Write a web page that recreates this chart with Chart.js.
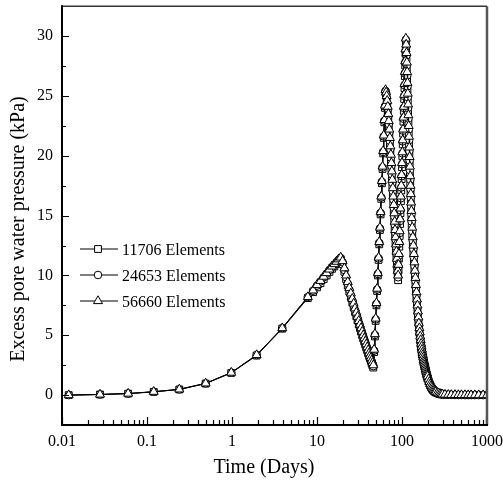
<!DOCTYPE html>
<html>
<head>
<meta charset="utf-8">
<script src="https://cdn.jsdelivr.net/npm/chart.js@4.4.0/dist/chart.umd.min.js"></script>
<style>
  html, body { margin: 0; padding: 0; background: #fff; }
  #wrap { width: 503px; height: 482px; }
</style>
</head>
<body>
<div id="wrap"><canvas id="chart" width="503" height="482"></canvas></div>
<script>
// time (days)
const times = [0.012, 0.028, 0.06, 0.12, 0.24, 0.49, 0.98, 1.95, 3.9, 7.8,
  9, 10, 11, 12, 13, 14, 15, 16, 17, 18, 19,
  20, 21, 22, 23, 24, 25, 26, 27, 28, 29, 30, 31, 32, 33, 34, 35, 36, 37, 38, 39, 40, 41, 42, 43, 44, 45, 46,
  47, 48, 49, 50, 51, 52, 53, 54, 55, 56, 57, 58, 59, 60, 61, 62, 63, 64,
  65, 66, 67, 68, 69, 70, 71, 72, 73, 74, 75, 76, 77, 78, 79, 80, 81, 82, 83, 84, 85, 86, 87, 88, 89, 90,
  91, 92, 93, 94, 95, 96, 97, 98, 99, 100, 101, 102, 103, 104, 105, 106, 107, 108, 109, 110, 111,
  112, 113, 114, 115, 116, 117, 118, 119, 120, 121, 122, 123, 124, 125, 126, 127, 128, 129, 130,
  132, 134, 136, 138, 140, 142, 144, 146, 148, 150, 152, 154, 156, 158, 160,
  162, 164, 166, 168, 170, 172, 174, 176, 178, 180, 182, 184, 186, 188, 190, 192, 194, 196, 198, 200,
  205, 210, 215, 220, 225, 230, 235, 240, 245, 250,
  260, 270, 280, 290, 300,
  320, 350, 380, 420, 460, 500, 550, 600, 650, 720, 800, 900, 1000];

// excess pore water pressure (kPa)
const elem11706 = [0, 0.05, 0.12, 0.27, 0.47, 0.96, 1.85, 3.3, 5.55, 8.1,
  8.6, 9.0, 9.35, 9.7, 10.0, 10.3, 10.55, 10.75, 10.95, 11.15, 11.35,
  10.95, 10.3, 9.7, 9.15, 8.65, 8.2, 7.75, 7.35, 6.95, 6.6, 6.25, 5.9, 5.6, 5.3, 5.0, 4.73, 4.47, 4.22, 3.97, 3.73, 3.5, 3.27, 3.06, 2.86, 2.66, 2.47, 2.3,
  3.6, 4.9, 6.2, 7.5, 8.7, 10.0, 11.3, 12.6, 13.8, 15.1, 16.4, 17.7, 18.9, 20.2, 21.5, 22.8, 24.0, 25.3,
  25.05, 24.7, 24.2, 23.65, 23.05, 22.4, 21.7, 21.0, 20.3, 19.6, 18.9, 18.2, 17.5, 16.8, 16.1, 15.4, 14.7, 14.0, 13.35, 12.75, 12.15, 11.55, 11.0, 10.5, 10.0, 9.6,
  10.5, 11.4, 12.4, 13.3, 14.3, 15.2, 16.2, 17.1, 18.05, 19.05, 19.95, 20.95, 21.85, 22.85, 23.75, 24.75, 25.65, 26.65, 27.55, 28.55, 29.5,
  28.9, 28.15, 27.3, 26.4, 25.5, 24.6, 23.7, 22.8, 21.9, 21.0, 20.1, 19.3, 18.5, 17.7, 16.9, 16.2, 15.5, 14.8, 14.2,
  13.4, 12.6, 11.9, 11.2, 10.5, 9.85, 9.25, 8.65, 8.1, 7.55, 7.05, 6.55, 6.1, 5.65, 5.25,
  4.9, 4.55, 4.25, 3.97, 3.72, 3.48, 3.26, 3.06, 2.87, 2.7, 2.54, 2.39, 2.25, 2.11, 1.98, 1.85, 1.73, 1.61, 1.5, 1.4,
  1.17, 0.97, 0.81, 0.67, 0.56, 0.46, 0.38, 0.32, 0.27, 0.22,
  0.16, 0.12, 0.09, 0.06, 0.05,
  0.03, 0.02, 0.02, 0.01, 0.01, 0, 0, 0, 0, 0, 0, 0, 0];

const elem24653 = [0, 0.05, 0.13, 0.28, 0.48, 0.98, 1.88, 3.35, 5.6, 8.2,
  8.72, 9.15, 9.5, 9.85, 10.15, 10.45, 10.7, 10.9, 11.1, 11.3, 11.45,
  11.1, 10.45, 9.85, 9.3, 8.8, 8.35, 7.9, 7.5, 7.1, 6.75, 6.4, 6.05, 5.75, 5.45, 5.15, 4.88, 4.62, 4.37, 4.12, 3.88, 3.64, 3.4, 3.2, 3.0, 2.8, 2.6, 2.42,
  3.72, 5.02, 6.32, 7.62, 8.82, 10.12, 11.42, 12.72, 13.92, 15.22, 16.52, 17.82, 19.02, 20.32, 21.62, 22.92, 24.12, 25.42,
  25.2, 24.85, 24.4, 23.9, 23.3, 22.65, 21.95, 21.25, 20.55, 19.85, 19.15, 18.45, 17.75, 17.05, 16.35, 15.65, 14.95, 14.25, 13.6, 13.0, 12.4, 11.8, 11.2, 10.7, 10.2, 9.85,
  10.75, 11.65, 12.65, 13.55, 14.55, 15.45, 16.45, 17.35, 18.3, 19.3, 20.2, 21.2, 22.1, 23.1, 24.0, 25.0, 25.9, 26.9, 27.8, 28.8, 29.7,
  29.1, 28.4, 27.55, 26.7, 25.8, 24.9, 24.0, 23.1, 22.2, 21.3, 20.4, 19.6, 18.8, 18.0, 17.2, 16.5, 15.8, 15.1, 14.5,
  13.7, 12.9, 12.2, 11.5, 10.8, 10.15, 9.55, 8.95, 8.35, 7.8, 7.3, 6.8, 6.3, 5.85, 5.45,
  5.1, 4.75, 4.45, 4.15, 3.9, 3.65, 3.42, 3.22, 3.02, 2.84, 2.68, 2.53, 2.38, 2.24, 2.1, 1.96, 1.83, 1.71, 1.6, 1.49,
  1.25, 1.04, 0.87, 0.72, 0.6, 0.5, 0.41, 0.34, 0.29, 0.24,
  0.17, 0.13, 0.1, 0.07, 0.05,
  0.04, 0.03, 0.02, 0.01, 0.01, 0.01, 0, 0, 0, 0, 0, 0, 0];

const elem56660 = [0, 0.05, 0.13, 0.28, 0.48, 0.98, 1.88, 3.35, 5.6, 8.2,
  8.75, 9.2, 9.55, 9.9, 10.2, 10.5, 10.75, 10.95, 11.15, 11.35, 11.5,
  11.2, 10.6, 10.0, 9.45, 8.95, 8.5, 8.05, 7.65, 7.25, 6.9, 6.55, 6.2, 5.9, 5.6, 5.3, 5.0, 4.75, 4.5, 4.25, 4.0, 3.75, 3.5, 3.3, 3.1, 2.9, 2.7, 2.5,
  3.8, 5.1, 6.4, 7.7, 8.9, 10.2, 11.5, 12.8, 14.0, 15.3, 16.6, 17.9, 19.1, 20.4, 21.7, 23.0, 24.2, 25.5,
  25.3, 25.0, 24.6, 24.1, 23.5, 22.9, 22.2, 21.5, 20.8, 20.1, 19.4, 18.7, 18.0, 17.3, 16.6, 15.9, 15.2, 14.5, 13.8, 13.2, 12.6, 12.0, 11.4, 10.9, 10.4, 10.0,
  10.9, 11.8, 12.8, 13.7, 14.7, 15.6, 16.6, 17.5, 18.4, 19.4, 20.3, 21.3, 22.2, 23.2, 24.1, 25.1, 26.0, 27.0, 27.9, 28.9, 29.8,
  29.3, 28.6, 27.8, 27.0, 26.1, 25.2, 24.3, 23.4, 22.5, 21.6, 20.7, 19.9, 19.1, 18.3, 17.5, 16.8, 16.1, 15.4, 14.8,
  14.0, 13.2, 12.5, 11.8, 11.1, 10.4, 9.8, 9.2, 8.6, 8.0, 7.5, 7.0, 6.5, 6.0, 5.6,
  5.25, 4.9, 4.6, 4.3, 4.05, 3.8, 3.55, 3.35, 3.15, 2.95, 2.8, 2.65, 2.5, 2.35, 2.2, 2.05, 1.92, 1.8, 1.68, 1.57,
  1.32, 1.1, 0.92, 0.77, 0.64, 0.53, 0.44, 0.37, 0.31, 0.26,
  0.19, 0.14, 0.11, 0.08, 0.06,
  0.04, 0.03, 0.02, 0.02, 0.01, 0.01, 0.01, 0, 0, 0, 0, 0, 0];

const seriesNames = ['11706 Elements', '24653 Elements', '56660 Elements'];
const xTicks = [0.01, 0.1, 1, 10, 100, 1000];
const yTicks = [0, 5, 10, 15, 20, 25, 30];
const yMinor = [-2.5, 2.5, 7.5, 12.5, 17.5, 22.5, 27.5, 32.5];

const FONT = '"Liberation Serif", "Times New Roman", serif';

const toPoints = (vals) => times.map((t, i) => ({ x: t, y: vals[i] }));

const styles = [
  { pointStyle: 'rect', radius: 4.8 },
  { pointStyle: 'circle', radius: 3.8 },
  { pointStyle: 'triangle', radius: 5.2 },
];

function drawMarker(ctx, style, r, x, y) {
  ctx.beginPath();
  if (style === 'rect') {
    const s = r * Math.SQRT1_2;
    ctx.rect(x - s, y - s, 2 * s, 2 * s);
  } else if (style === 'circle') {
    ctx.arc(x, y, r, 0, Math.PI * 2);
  } else {
    ctx.moveTo(x, y - r);
    ctx.lineTo(x + r * Math.sin(Math.PI * 2 / 3), y - r * Math.cos(Math.PI * 2 / 3));
    ctx.lineTo(x + r * Math.sin(Math.PI * 4 / 3), y - r * Math.cos(Math.PI * 4 / 3));
    ctx.closePath();
  }
  ctx.fillStyle = '#fff';
  ctx.fill();
  ctx.lineWidth = 1;
  ctx.strokeStyle = '#000';
  ctx.stroke();
}

const framePlugin = {
  id: 'frame',
  afterDraw(chart) {
    const { ctx, chartArea: a, scales } = chart;
    const xs = scales.x, ys = scales.y;
    ctx.save();

    // inward ticks
    ctx.strokeStyle = '#000';
    ctx.lineWidth = 1.2;
    ctx.beginPath();
    for (let d = 0.01; d < 1000; d *= 10) {
      for (let m = 1; m < 10; m++) {
        const v = d * m;
        const px = Math.round(xs.getPixelForValue(v)) + 0.5;
        const len = m === 1 ? 8 : 5;
        ctx.moveTo(px, a.bottom);
        ctx.lineTo(px, a.bottom - len);
      }
    }
    const pxEnd = Math.round(xs.getPixelForValue(1000)) - 0.5;
    ctx.moveTo(pxEnd, a.bottom);
    ctx.lineTo(pxEnd, a.bottom - 8);
    yTicks.forEach(v => {
      const py = Math.round(ys.getPixelForValue(v)) + 0.5;
      ctx.moveTo(a.left, py);
      ctx.lineTo(a.left + 7, py);
    });
    yMinor.forEach(v => {
      const py = Math.round(ys.getPixelForValue(v)) + 0.5;
      ctx.moveTo(a.left, py);
      ctx.lineTo(a.left + 4, py);
    });
    ctx.stroke();

    // frame
    ctx.strokeStyle = '#333';
    ctx.lineWidth = 1.5;
    ctx.beginPath();
    ctx.moveTo(a.left, a.top);
    ctx.lineTo(a.right, a.top);
    ctx.stroke();
    ctx.strokeStyle = '#555';
    ctx.lineWidth = 2.5;
    ctx.beginPath();
    ctx.moveTo(a.right, a.top);
    ctx.lineTo(a.right, a.bottom);
    ctx.stroke();
    ctx.strokeStyle = '#000';
    ctx.lineWidth = 2;
    ctx.beginPath();
    ctx.moveTo(a.left, a.top - 1);
    ctx.lineTo(a.left, a.bottom);
    ctx.lineTo(a.right + 1, a.bottom);
    ctx.stroke();

    // legend
    const rows = [249, 275, 301];
    ctx.font = '16px ' + FONT;
    ctx.textBaseline = 'middle';
    ctx.textAlign = 'left';
    rows.forEach((ry, i) => {
      ctx.strokeStyle = '#000';
      ctx.lineWidth = 1.2;
      ctx.beginPath();
      ctx.moveTo(80, ry);
      ctx.lineTo(118, ry);
      ctx.stroke();
      drawMarker(ctx, styles[i].pointStyle, styles[i].radius, 98, ry);
      ctx.fillStyle = '#000';
      ctx.fillText(seriesNames[i], 122, ry + 2);
    });

    // axis titles
    ctx.font = '20px ' + FONT;
    ctx.fillStyle = '#000';
    ctx.textAlign = 'center';
    ctx.fillText('Time (Days)', 264, 468);
    ctx.save();
    ctx.translate(19, 229);
    ctx.rotate(-Math.PI / 2);
    ctx.fillText('Excess pore water pressure (kPa)', 0, 0);
    ctx.restore();

    ctx.restore();
  }
};

const datasets = [elem11706, elem24653, elem56660].map((vals, i) => ({
  label: seriesNames[i],
  data: toPoints(vals),
  borderColor: '#000',
  borderWidth: 1,
  backgroundColor: '#fff',
  pointBackgroundColor: '#fff',
  pointBorderColor: '#000',
  pointBorderWidth: 1,
  pointStyle: styles[i].pointStyle,
  pointRadius: styles[i].radius,
  tension: 0,
  fill: false,
  order: 3 - i,
}));

new Chart(document.getElementById('chart'), {
  type: 'line',
  data: { datasets },
  options: {
    responsive: false,
    animation: false,
    devicePixelRatio: 1,
    layout: { padding: { left: 0, right: 16, top: 4, bottom: 0 } },
    plugins: { legend: { display: false }, tooltip: { enabled: false } },
    scales: {
      x: {
        type: 'logarithmic',
        min: 0.01,
        max: 1000,
        afterFit: (s) => { s.height = 57; s.paddingLeft = 0; s.paddingRight = 0; },
        afterBuildTicks: (s) => { s.ticks = xTicks.map(v => ({ value: v })); },
        grid: { display: false, drawTicks: false },
        border: { display: false },
        ticks: {
          autoSkip: false,
          maxRotation: 0,
          padding: 7,
          color: '#000',
          font: { family: FONT, size: 16 },
          callback: (v) => String(v),
        },
      },
      y: {
        type: 'linear',
        min: -2.5,
        max: 32.5,
        afterFit: (s) => { s.width = 62; s.paddingTop = 0; s.paddingBottom = 0; },
        afterBuildTicks: (s) => { s.ticks = yTicks.map(v => ({ value: v })); },
        grid: { display: false, drawTicks: false },
        border: { display: false },
        ticks: {
          padding: 9,
          color: '#000',
          font: { family: FONT, size: 16 },
          callback: (v) => String(v),
        },
      },
    },
  },
  plugins: [framePlugin],
});
</script>
</body>
</html>
